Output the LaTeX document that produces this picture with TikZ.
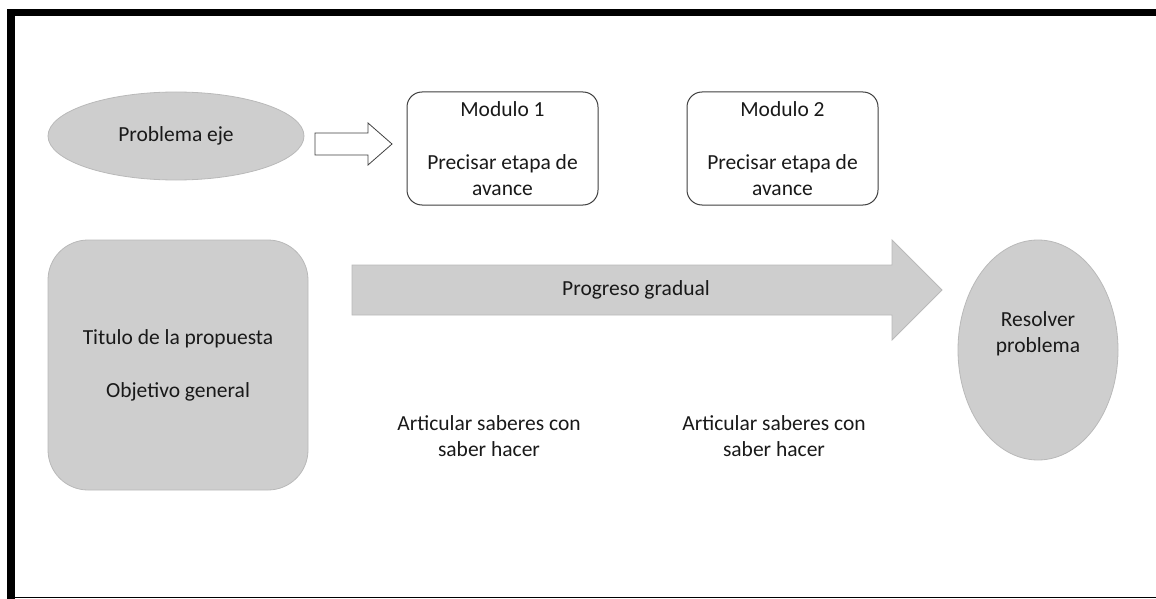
\documentclass[tikz,border=0pt]{standalone}
\usepackage{fontspec}
\setmainfont{Carlito}
\usetikzlibrary{shapes.geometric}
\definecolor{shapefill}{RGB}{206,206,206}
\definecolor{shapeline}{RGB}{185,185,185}
\definecolor{boxline}{RGB}{64,64,64}
\begin{document}
\begin{tikzpicture}[x=1pt,y=-1pt,
  txt/.style={font=\fontsize{21.5}{26.5}\selectfont, text=black!90, align=center, inner sep=0pt},
  grayshape/.style={fill=shapefill, draw=shapeline, line width=0.8pt},
  modbox/.style={draw=boxline, fill=white, line width=1pt, rounded corners=15pt, minimum width=191pt, minimum height=113pt, txt},
]
\useasboundingbox (0,0) rectangle (1156,599);
% frame
\fill[black] (7,9) rectangle (1156,16.5);
\fill[black] (7,9) rectangle (15,599);
\draw[black, line width=1.5pt] (7,597.5) -- (1156,597.5);
% problema eje
\node[ellipse, grayshape, minimum width=256pt, minimum height=88pt, txt] (pe) at (176,136) {Problema eje};
% hollow arrow
\draw[fill=white, draw=boxline, line width=0.8pt] (315,133) -- (368,133) -- (368,123) -- (392,144) -- (368,165) -- (368,155) -- (315,155) -- cycle;
\coordinate (ha) at (353,144);
% modules
\node[modbox] (m1) at (502.5,148.5) {Modulo 1\\ \\Precisar etapa de\\avance};
\node[modbox] (m2) at (782.5,148.5) {Modulo 2\\ \\Precisar etapa de\\avance};
% titulo
\node[grayshape, rounded corners=40pt, minimum width=260pt, minimum height=250pt, txt] (tit) at (178,365) {Titulo de la propuesta\\ \\Objetivo general};
% big arrow
\draw[grayshape] (352,265) -- (892,265) -- (892,240) -- (942,290) -- (892,340) -- (892,315) -- (352,315) -- cycle;
\node[txt] (pg) at (636,290) {Progreso gradual};
% resolver
\node[ellipse, grayshape, minimum width=160pt, minimum height=220pt] (rp) at (1038,350) {};
\node[txt] (rpt) at (1038,334) {Resolver\\problema};
% articular
\node[txt] (a1) at (489,436) {Articular saberes con\\saber hacer};
\node[txt] (a2) at (774,436) {Articular saberes con\\saber hacer};
\end{tikzpicture}
\end{document}
